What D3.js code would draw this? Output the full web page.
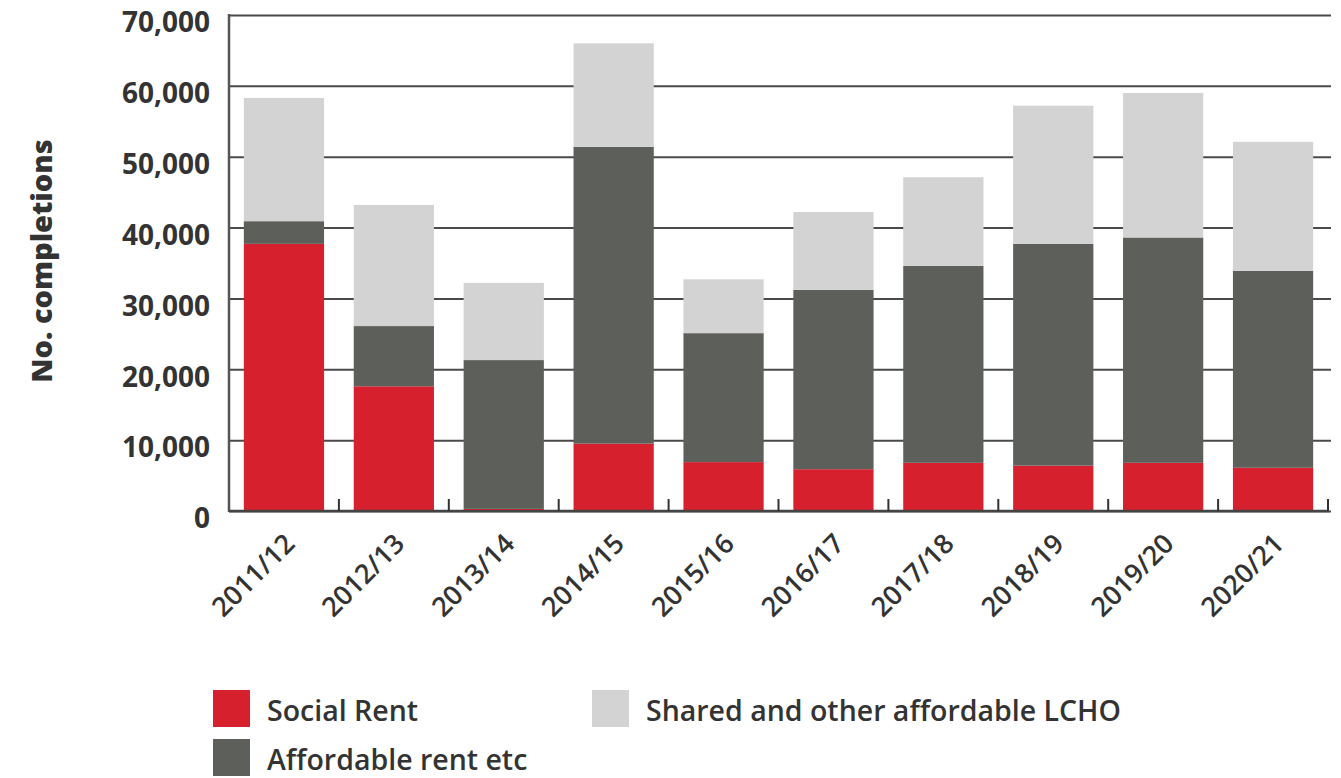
<!DOCTYPE html>
<html>
<head>
<meta charset="utf-8">
<script src="https://cdn.jsdelivr.net/npm/d3@7"></script>
<style>
  html, body { margin: 0; padding: 0; background: #fff; }
  svg { display: block; font-family: 'Open Sans', sans-serif; }
</style>
</head>
<body>
<svg id="mount"></svg>
<script>
'use strict';

const years = ['2011/12', '2012/13', '2013/14', '2014/15', '2015/16',
  '2016/17', '2017/18', '2018/19', '2019/20', '2020/21'];
const socialRent = [37700, 17600, 300, 9500, 6900, 5900, 6800, 6400, 6800, 6100];
const affordableRent = [3200, 8500, 21000, 41900, 18200, 25300, 27800, 31300, 31800, 27800];
const sharedLcho = [17400, 17100, 10900, 14600, 7600, 11000, 12500, 19500, 20400, 18200];
const seriesNames = ['Social Rent', 'Affordable rent etc', 'Shared and other affordable LCHO'];
const yTicks = [0, 10000, 20000, 30000, 40000, 50000, 60000, 70000];

const colors = ['#d6202e', '#5d5f5b', '#d2d3d2'];

class StackedBar {
  constructor(el, m, w, h) {
    this.mount = el;
    this.margin = m;
    this.width = w - this.margin.left - this.margin.right;
    this.height = h - this.margin.top - this.margin.bottom;
  }

  init() {
    const svg = d3.select(this.mount)
        .attr('width', 1341)
        .attr('height', 778);

    const graph = svg.append('g')
        .attr('transform', `translate(${this.margin.left}, ${this.margin.top})`);

    const rows = years.map((y, i) => ({
      year: y, s0: socialRent[i], s1: affordableRent[i], s2: sharedLcho[i]
    }));
    const stack = d3.stack().keys(['s0', 's1', 's2'])(rows);

    const x = d3.scaleBand()
        .domain(years)
        .range([0, this.width])
        .paddingInner(0.27)
        .paddingOuter(0.135);

    const y = d3.scaleLinear()
        .domain([0, 70000])
        .range([this.height, 0]);

    // gridlines + labels
    const yAxis = d3.axisLeft(y)
        .tickValues(yTicks)
        .tickFormat(d3.format(','))
        .tickSize(-this.width - 3)
        .tickPadding(19);

    const ya = graph.append('g')
        .attr('class', 'y-axis')
        .call(yAxis)
        .attr('font-family', null);
    ya.select('.domain').remove();
    ya.selectAll('.tick line')
        .attr('stroke', '#4a4a4a')
        .attr('stroke-width', 2);
    ya.selectAll('.tick text')
        .attr('fill', '#333')
        .attr('font-size', 28)
        .attr('font-weight', 700)
        .attr('dy', '0.6em');

    graph.append('g')
        .selectAll('g')
        .data(stack)
      .enter().append('g')
        .attr('fill', (d, i) => colors[i])
        .selectAll('rect')
        .data(d => d)
      .enter().append('rect')
        .attr('x', d => x(d.data.year))
        .attr('y', d => y(d[1]))
        .attr('width', x.bandwidth())
        .attr('height', d => y(d[0]) - y(d[1]));

    // axis lines
    graph.append('line')
        .attr('x1', 0).attr('x2', 0)
        .attr('y1', y(70000) - 1).attr('y2', this.height + 1)
        .attr('stroke', '#555').attr('stroke-width', 2.5);

    graph.append('line')
        .attr('x1', 0).attr('x2', this.width + 1)
        .attr('y1', this.height).attr('y2', this.height)
        .attr('stroke', '#444').attr('stroke-width', 2.5);

    const step = x.step();
    graph.append('g')
        .selectAll('line')
        .data(years)
      .enter().append('line')
        .attr('x1', d => x(d) + x.bandwidth() + step * 0.135)
        .attr('x2', d => x(d) + x.bandwidth() + step * 0.135)
        .attr('y1', this.height)
        .attr('y2', this.height - 12)
        .attr('stroke', '#333')
        .attr('stroke-width', 2);

    graph.append('g')
        .selectAll('text')
        .data(years)
      .enter().append('text')
        .attr('transform', d => `translate(${x(d) + x.bandwidth() / 2 - 1}, ${this.height + 21}) rotate(-45)`)
        .attr('text-anchor', 'end')
        .attr('dy', '0.7em')
        .attr('fill', '#333')
        .attr('font-size', 27)
        .attr('font-weight', 600)
        .text(d => d);

    svg.append('text')
        .attr('transform', 'translate(52, 261) rotate(-90)')
        .attr('text-anchor', 'middle')
        .attr('fill', '#333')
        .attr('font-size', 29)
        .attr('font-weight', 800)
        .text('No. completions');

    // legend
    const legend = [
      { i: 0, x: 213, y: 690 },
      { i: 2, x: 592, y: 690 },
      { i: 1, x: 213, y: 739 }
    ];
    const lg = svg.append('g')
        .selectAll('g')
        .data(legend)
      .enter().append('g')
        .attr('transform', d => `translate(${d.x}, ${d.y})`);
    lg.append('rect')
        .attr('width', 37)
        .attr('height', 37)
        .attr('fill', d => colors[d.i]);
    lg.append('text')
        .attr('x', 54)
        .attr('y', 31)
        .attr('fill', '#333')
        .attr('font-size', 28.5)
        .attr('font-weight', 600)
        .text(d => seriesNames[d.i]);
  }
}

new StackedBar('#mount', { top: 15, left: 229, bottom: 267, right: 13 }, 1341, 778).init();
</script>
</body>
</html>
